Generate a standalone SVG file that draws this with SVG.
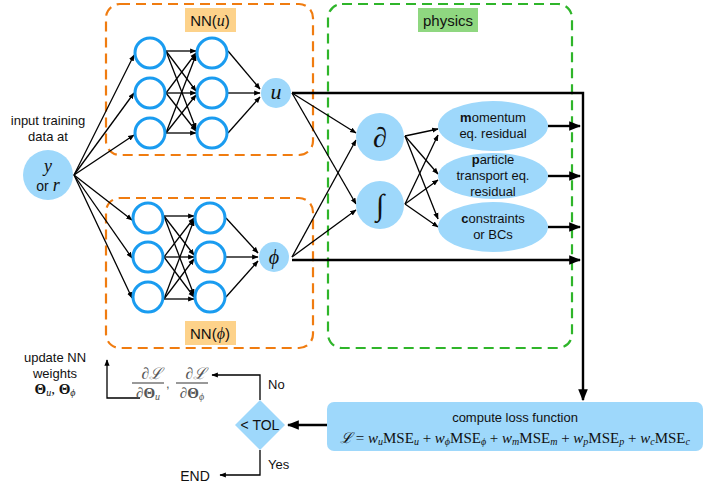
<svg xmlns="http://www.w3.org/2000/svg" width="706" height="492" viewBox="0 0 706 492" font-family="Liberation Sans, Arial, sans-serif" font-size="13" fill="#111">
<style>
.m{font-family:"Liberation Serif","Times New Roman",serif;font-style:italic}
.s{font-family:"Liberation Serif","Times New Roman",serif}
.n{fill:#fff;stroke:#1a9cf0;stroke-width:3}
.b{fill:#9ed8fb;stroke:none}
.c line,.c path{stroke:#000;stroke-width:1.3;fill:none;marker-end:url(#a)}
.t{stroke-width:2.4!important}
</style>
<defs><marker id="a" viewBox="0 0 10 10" refX="9" refY="5" markerWidth="5" markerHeight="5" orient="auto"><path d="M0,1 L10,5 L0,9z" fill="#000"/></marker></defs>
<rect x="106" y="4" width="207" height="151" rx="14" fill="none" stroke="#f07c10" stroke-width="2.2" stroke-dasharray="10,6"/>
<rect x="106" y="198" width="207" height="150" rx="14" fill="none" stroke="#f07c10" stroke-width="2.2" stroke-dasharray="10,6"/>
<rect x="328" y="4" width="244" height="344" rx="14" fill="none" stroke="#2fb52a" stroke-width="2.2" stroke-dasharray="10,6"/>
<rect x="185" y="8" width="51" height="24" fill="#fdd28a"/>
<text x="210" y="26" text-anchor="middle" font-size="15">NN(<tspan class="m" font-size="16">u</tspan>)</text>
<rect x="185" y="321" width="51" height="24" fill="#fdd28a"/>
<text x="210" y="339" text-anchor="middle" font-size="15">NN(<tspan class="m" font-size="16">ϕ</tspan>)</text>
<rect x="418" y="8" width="60" height="24" fill="#8fd780"/>
<text x="448" y="26" text-anchor="middle" font-size="15">physics</text>
<g class="c">
<line x1="74" y1="175" x2="134" y2="55"/><line x1="74" y1="175" x2="134" y2="93"/><line x1="74" y1="175" x2="134" y2="135"/>
<line x1="74" y1="175" x2="132" y2="220"/><line x1="74" y1="175" x2="132" y2="258"/><line x1="74" y1="175" x2="132" y2="298"/>
<line x1="166" y1="51" x2="196" y2="51"/><line x1="166" y1="51" x2="196" y2="91"/><line x1="166" y1="51" x2="196" y2="129"/>
<line x1="166" y1="93" x2="196" y2="53"/><line x1="166" y1="93" x2="196" y2="93"/><line x1="166" y1="93" x2="196" y2="131"/>
<line x1="166" y1="133" x2="196" y2="55"/><line x1="166" y1="133" x2="196" y2="95"/><line x1="166" y1="133" x2="196" y2="133"/>
<line x1="228" y1="51" x2="260" y2="89"/><line x1="228" y1="93" x2="260" y2="93"/><line x1="228" y1="133" x2="260" y2="97"/>
<line x1="164" y1="216" x2="194" y2="216"/><line x1="164" y1="216" x2="194" y2="255"/><line x1="164" y1="216" x2="194" y2="295"/>
<line x1="164" y1="257" x2="194" y2="218"/><line x1="164" y1="257" x2="194" y2="257"/><line x1="164" y1="257" x2="194" y2="297"/>
<line x1="164" y1="299" x2="194" y2="220"/><line x1="164" y1="299" x2="194" y2="259"/><line x1="164" y1="299" x2="194" y2="299"/>
<line x1="226" y1="218" x2="258" y2="253"/><line x1="226" y1="257" x2="258" y2="257"/><line x1="226" y1="297" x2="258" y2="261"/>
<line x1="292" y1="93" x2="356" y2="133"/><line x1="292" y1="93" x2="356" y2="204"/>
<line x1="292" y1="257" x2="356" y2="140"/><line x1="292" y1="257" x2="356" y2="210"/>
<line x1="405" y1="136" x2="438" y2="129"/><line x1="405" y1="136" x2="438" y2="174"/><line x1="405" y1="136" x2="438" y2="219"/>
<line x1="405" y1="204" x2="438" y2="135"/><line x1="405" y1="204" x2="438" y2="180"/><line x1="405" y1="204" x2="438" y2="227"/>
<line class="t" x1="548" y1="126" x2="580" y2="126"/><line class="t" x1="548" y1="176" x2="580" y2="176"/><line class="t" x1="548" y1="227" x2="580" y2="227"/>
<line class="t" x1="292" y1="260" x2="580" y2="260"/>
<path class="t" d="M292,93 H583 V400"/>
<line class="t" x1="327" y1="425" x2="288" y2="425"/>
<path d="M260,400 V375 H212"/>
<path d="M140,398 H107 V360"/>
<path d="M260,450 V475 H220"/>
</g>
<g id="input"><circle cx="48" cy="175" r="25" class="b"/><text class="m" x="48" y="172" text-anchor="middle" font-size="18">y</text><text x="48" y="191" text-anchor="middle" font-size="14">or <tspan class="m" font-size="18">r</tspan></text>
<text x="48" y="125" text-anchor="middle">input training</text><text x="48" y="141" text-anchor="middle">data at</text></g>
<g id="nnu"><circle cx="150" cy="53" r="15" class="n"/><circle cx="150" cy="93" r="15" class="n"/><circle cx="150" cy="133" r="15" class="n"/>
<circle cx="212" cy="53" r="15" class="n"/><circle cx="212" cy="93" r="15" class="n"/><circle cx="212" cy="133" r="15" class="n"/></g>
<g id="nnphi"><circle cx="148" cy="218" r="15" class="n"/><circle cx="148" cy="257" r="15" class="n"/><circle cx="148" cy="297" r="15" class="n"/>
<circle cx="210" cy="218" r="15" class="n"/><circle cx="210" cy="257" r="15" class="n"/><circle cx="210" cy="297" r="15" class="n"/></g>
<g id="u"><circle cx="276" cy="93" r="15" class="b"/><text class="m" x="276" y="99" text-anchor="middle" font-size="22">u</text></g>
<g id="phi"><circle cx="274" cy="257" r="15" class="b"/><text class="m" x="274" y="264" text-anchor="middle" font-size="20">ϕ</text></g>
<g id="d"><circle cx="380" cy="137" r="24" class="b"/><text class="m" x="380" y="147" text-anchor="middle" font-size="28">∂</text></g>
<g id="int"><circle cx="380" cy="205" r="24" class="b"/><text class="m" x="380" y="215" text-anchor="middle" font-size="30">∫</text></g>
<g id="mom"><ellipse cx="493" cy="126" rx="55" ry="25" class="b"/><text x="493" y="122" text-anchor="middle"><tspan font-weight="bold">m</tspan>omentum</text><text x="493" y="138" text-anchor="middle">eq. residual</text></g>
<g id="part"><ellipse cx="493" cy="176" rx="55" ry="23" class="b"/><text x="493" y="164" text-anchor="middle"><tspan font-weight="bold">p</tspan>article</text><text x="493" y="180" text-anchor="middle">transport eq.</text><text x="493" y="196" text-anchor="middle">residual</text></g>
<g id="con"><ellipse cx="493" cy="227" rx="55" ry="25" class="b"/><text x="493" y="223" text-anchor="middle"><tspan font-weight="bold">c</tspan>onstraints</text><text x="493" y="239" text-anchor="middle">or BCs</text></g>
<g id="loss"><rect x="327" y="402" width="376" height="49" rx="7" class="b"/><text x="515" y="422" text-anchor="middle">compute loss function</text>
<text class="s" x="515" y="443" text-anchor="middle" font-size="15"><tspan font-style="italic">ℒ</tspan> = <tspan font-style="italic">w</tspan><tspan font-size="10" dy="2" font-style="italic">u</tspan><tspan dy="-2">MSE</tspan><tspan font-size="10" dy="2" font-style="italic">u</tspan><tspan dy="-2"> + </tspan><tspan font-style="italic">w</tspan><tspan font-size="10" dy="2" font-style="italic">ϕ</tspan><tspan dy="-2">MSE</tspan><tspan font-size="10" dy="2" font-style="italic">ϕ</tspan><tspan dy="-2"> + </tspan><tspan font-style="italic">w</tspan><tspan font-size="10" dy="2" font-style="italic">m</tspan><tspan dy="-2">MSE</tspan><tspan font-size="10" dy="2" font-style="italic">m</tspan><tspan dy="-2"> + </tspan><tspan font-style="italic">w</tspan><tspan font-size="10" dy="2" font-style="italic">p</tspan><tspan dy="-2">MSE</tspan><tspan font-size="10" dy="2" font-style="italic">p</tspan><tspan dy="-2"> + </tspan><tspan font-style="italic">w</tspan><tspan font-size="10" dy="2" font-style="italic">c</tspan><tspan dy="-2">MSE</tspan><tspan font-size="10" dy="2" font-style="italic">c</tspan></text></g>
<g id="tol"><path d="M260,400 L285,425 L260,450 L235,425z" class="b"/><text x="260" y="430" text-anchor="middle" font-size="14">&lt; TOL</text></g>
<text x="268" y="389">No</text><text x="268" y="469">Yes</text>
<text x="195" y="481" text-anchor="middle" font-size="14">END</text>
<g id="update"><text x="55" y="362" text-anchor="middle">update NN</text><text x="55" y="378" text-anchor="middle">weights</text>
<text class="s" x="55" y="394" text-anchor="middle" font-size="15"><tspan font-weight="bold">Θ</tspan><tspan font-size="10" dy="2" font-style="italic">u</tspan><tspan dy="-2">,  </tspan><tspan font-weight="bold">Θ</tspan><tspan font-size="10" dy="2" font-style="italic">ϕ</tspan></text></g>
<g id="grad" fill="#555">
<text x="152" y="379" text-anchor="middle" class="m" font-size="16">∂ℒ</text><line x1="132" y1="383" x2="164" y2="383" stroke="#777" stroke-width="1.5"/><text class="s" x="148" y="398" text-anchor="middle" font-size="15">∂<tspan font-weight="bold">Θ</tspan><tspan font-size="10" dy="2" font-style="italic">u</tspan></text>
<text x="166" y="388">,</text>
<text x="196" y="379" text-anchor="middle" class="m" font-size="16">∂ℒ</text><line x1="176" y1="383" x2="208" y2="383" stroke="#777" stroke-width="1.5"/><text class="s" x="192" y="398" text-anchor="middle" font-size="15">∂<tspan font-weight="bold">Θ</tspan><tspan font-size="10" dy="2" font-style="italic">ϕ</tspan></text></g>
</svg>
